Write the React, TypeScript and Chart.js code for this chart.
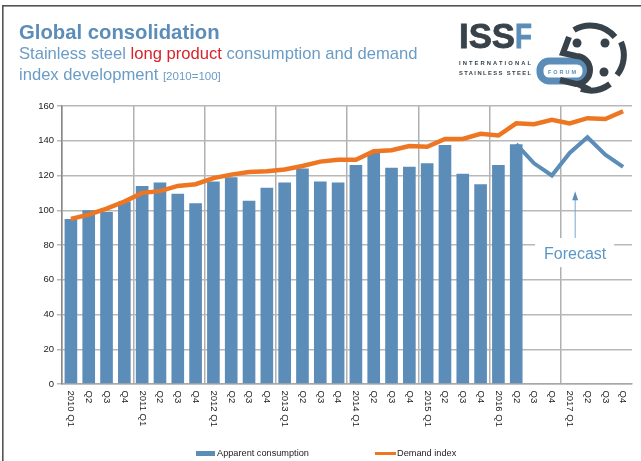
import React, { useEffect, useRef } from "react";
import { Chart, registerables } from "chart.js";

Chart.register(...registerables);

const quarters = [
  "2010 Q1","Q2","Q3","Q4","2011 Q1","Q2","Q3","Q4","2012 Q1","Q2","Q3","Q4",
  "2013 Q1","Q2","Q3","Q4","2014 Q1","Q2","Q3","Q4","2015 Q1","Q2","Q3","Q4",
  "2016 Q1","Q2","Q3","Q4","2017 Q1","Q2","Q3","Q4",
];
const apparentConsumption = [95,100,99,105,114,116,109.5,104,116.5,119,105.5,113,116,124,116.5,116,126,133,124.5,125,127,137.5,121,115,126,138];
const demandIndex = [95,97.5,101,105,110,111,114,115,118.5,120.5,122,122.5,123.5,125.5,128,129,129,134,134.5,137,136.5,141,141,144,143,150,149.5,152,150,153,152.5,157];
const forecast = [null,null,null,null,null,null,null,null,null,null,null,null,null,null,null,null,null,null,null,null,null,null,null,null,null,138,127,120,133,142,132,125];
const yTicks = [0,20,40,60,80,100,120,140,160];

const BLUE = "#5b8db8";
const ORANGE = "#ee7623";
const DARK = "#37424a";
const FONT = '"Liberation Sans", Arial, sans-serif';

const overlay = {
  id: "overlay",
  afterDraw(chart: any) {
    const { ctx, scales } = chart;
    const x = scales.x;
    const y = scales.y;
    ctx.save();
    // rotated quarter labels
    ctx.fillStyle = "#222";
    ctx.font = `9.5px ${FONT}`;
    ctx.textAlign = "left";
    ctx.textBaseline = "middle";
    quarters.forEach((q, i) => {
      ctx.save();
      ctx.translate(x.getPixelForTick(i), 390.5);
      ctx.rotate(Math.PI / 2);
      ctx.fillText(q, 0, 0);
      ctx.restore();
    });
    // forecast note
    const cx = x.getPixelForValue(28) + 5.5;
    const top = y.getPixelForValue(111);
    const bottom = y.getPixelForValue(84);
    ctx.fillStyle = "#fff";
    ctx.fillRect(cx - 40, y.getPixelForValue(84), 79, 29);
    ctx.strokeStyle = "#7aa6c9";
    ctx.lineWidth = 1;
    ctx.beginPath();
    ctx.moveTo(cx, top + 8);
    ctx.lineTo(cx, bottom);
    ctx.stroke();
    ctx.fillStyle = BLUE;
    ctx.beginPath();
    ctx.moveTo(cx, top);
    ctx.lineTo(cx - 3, top + 9);
    ctx.lineTo(cx + 3, top + 9);
    ctx.closePath();
    ctx.fill();
    ctx.fillStyle = "#5b97c6";
    ctx.font = `16px ${FONT}`;
    ctx.textAlign = "center";
    ctx.textBaseline = "alphabetic";
    ctx.fillText("Forecast", cx, 259);
    // legend
    ctx.font = `9.2px ${FONT}`;
    ctx.textAlign = "left";
    ctx.textBaseline = "middle";
    ctx.fillStyle = BLUE;
    ctx.fillRect(196, 451, 19, 5);
    ctx.fillStyle = "#222";
    ctx.fillText(chart.data.datasets[0].label, 217, 453.5);
    ctx.fillStyle = ORANGE;
    ctx.fillRect(375, 452, 21, 3);
    ctx.fillStyle = "#222";
    ctx.fillText(chart.data.datasets[1].label, 397, 453.5);
    ctx.restore();
  },
};

function Logo() {
  return (
    <svg width={641} height={461} style={{ position: "absolute", left: 0, top: 0, pointerEvents: "none" }}>
      <rect x={3} y={5} width={638} height={1.6} fill="#555" />
      <rect x={2} y={5} width={1.6} height={456} fill="#555" />
      <text x={459} y={48} fontFamily={FONT} fontWeight="bold" fontSize={35} fill={DARK} stroke={DARK} strokeWidth={0.8} textLength={56} lengthAdjust="spacingAndGlyphs">ISS</text>
      <text x={515} y={48} fontFamily={FONT} fontWeight="bold" fontSize={35} fill={BLUE} stroke={BLUE} strokeWidth={0.8} textLength={17} lengthAdjust="spacingAndGlyphs">F</text>
      <text x={459} y={65} fontFamily={FONT} fontWeight="bold" fontSize={5.8} fill={DARK} textLength={72}>INTERNATIONAL</text>
      <text x={459} y={74.5} fontFamily={FONT} fontWeight="bold" fontSize={5.8} fill={DARK} textLength={72}>STAINLESS STEEL</text>
      <rect x={540} y={61} width={46} height={20} rx={9} fill="#fff" stroke={BLUE} strokeWidth={7} />
      <text x={548} y={74} fontFamily={FONT} fontWeight="bold" fontSize={5.5} fill={BLUE} textLength={28}>FORUM</text>
      <g fill="none" stroke={DARK} strokeWidth={6}>
        <path d="M574 30 A32 32 0 0 1 615 37" />
        <path d="M621 42 A32 32 0 0 1 617 75" />
        <path d="M610 84 A32 32 0 0 1 581 89" />
        <path d="M569 37 L563 53 L576 56 A14 14 0 0 1 590 70 A14 14 0 0 1 576 84 L560 80" />
        <path d="M578 84 L590 90" />
      </g>
      <circle cx={577} cy={43} r={4.5} fill={DARK} />
      <circle cx={605} cy={43} r={4.5} fill={DARK} />
      <circle cx={604} cy={72} r={4.5} fill={DARK} />
    </svg>
  );
}

export default function App() {
  const ref = useRef<HTMLCanvasElement>(null);
  useEffect(() => {
    const chart = new Chart(ref.current!, {
      type: "bar",
      data: {
        labels: quarters,
        datasets: [
          { type: "bar", label: "Apparent consumption", data: apparentConsumption, backgroundColor: BLUE, barPercentage: 0.71, categoryPercentage: 1, order: 3 },
          { type: "line", label: "Demand index", data: demandIndex, borderColor: ORANGE, borderWidth: 4.5, pointRadius: 0, tension: 0, order: 1 },
          { type: "line", label: "Forecast", data: forecast, borderColor: BLUE, borderWidth: 4, pointRadius: 0, tension: 0, order: 2 },
        ],
      } as any,
      options: {
        animation: false,
        responsive: false,
        layout: { padding: { top: 106, right: 9, left: 0, bottom: 0 } },
        plugins: { legend: { display: false }, tooltip: { enabled: false }, title: { display: false } },
        scales: {
          x: {
            afterFit: (s: any) => { s.height = 77; },
            ticks: { display: false, autoSkip: false },
            border: { color: "#a8a8a8", width: 1.5 },
            grid: {
              offset: true,
              drawTicks: false,
              lineWidth: 1.5,
              color: (c: any) => (c.index % 4 === 0 ? "#b0b0b0" : "transparent"),
            },
          },
          y: {
            min: 0,
            max: 160,
            afterFit: (s: any) => { s.width = 62; },
            afterBuildTicks: (s: any) => { s.ticks = yTicks.map((value) => ({ value })); },
            ticks: { color: "#222", font: { family: FONT, size: 9.5 }, padding: 3 },
            border: { color: "#888", width: 1.5 },
            grid: { color: "#b8b8b8", lineWidth: 1.5, tickLength: 5 },
          },
        },
      },
      plugins: [overlay],
    } as any);
    return () => chart.destroy();
  }, []);
  return (
    <div style={{ position: "absolute", left: 0, top: 0, width: 641, height: 461, background: "#fff", overflow: "hidden" }}>
      <canvas ref={ref} width={641} height={461} style={{ display: "block", position: "absolute", left: 0, top: 0 }} />
      <Logo />
      <div style={{ position: "absolute", left: 19, top: 18, fontFamily: FONT, fontWeight: "bold", fontSize: 20.3, lineHeight: "28px", color: BLUE, whiteSpace: "nowrap" }}>Global consolidation</div>
      <div style={{ position: "absolute", left: 19, top: 43, fontFamily: FONT, fontSize: 16.6, lineHeight: "21px", color: "#6a9cc6", whiteSpace: "nowrap" }}>
        Stainless steel <span style={{ color: "#d8232a" }}>long product</span> consumption and demand<br />
        index development <span style={{ fontSize: 11.5 }}>[2010=100]</span>
      </div>
    </div>
  );
}
